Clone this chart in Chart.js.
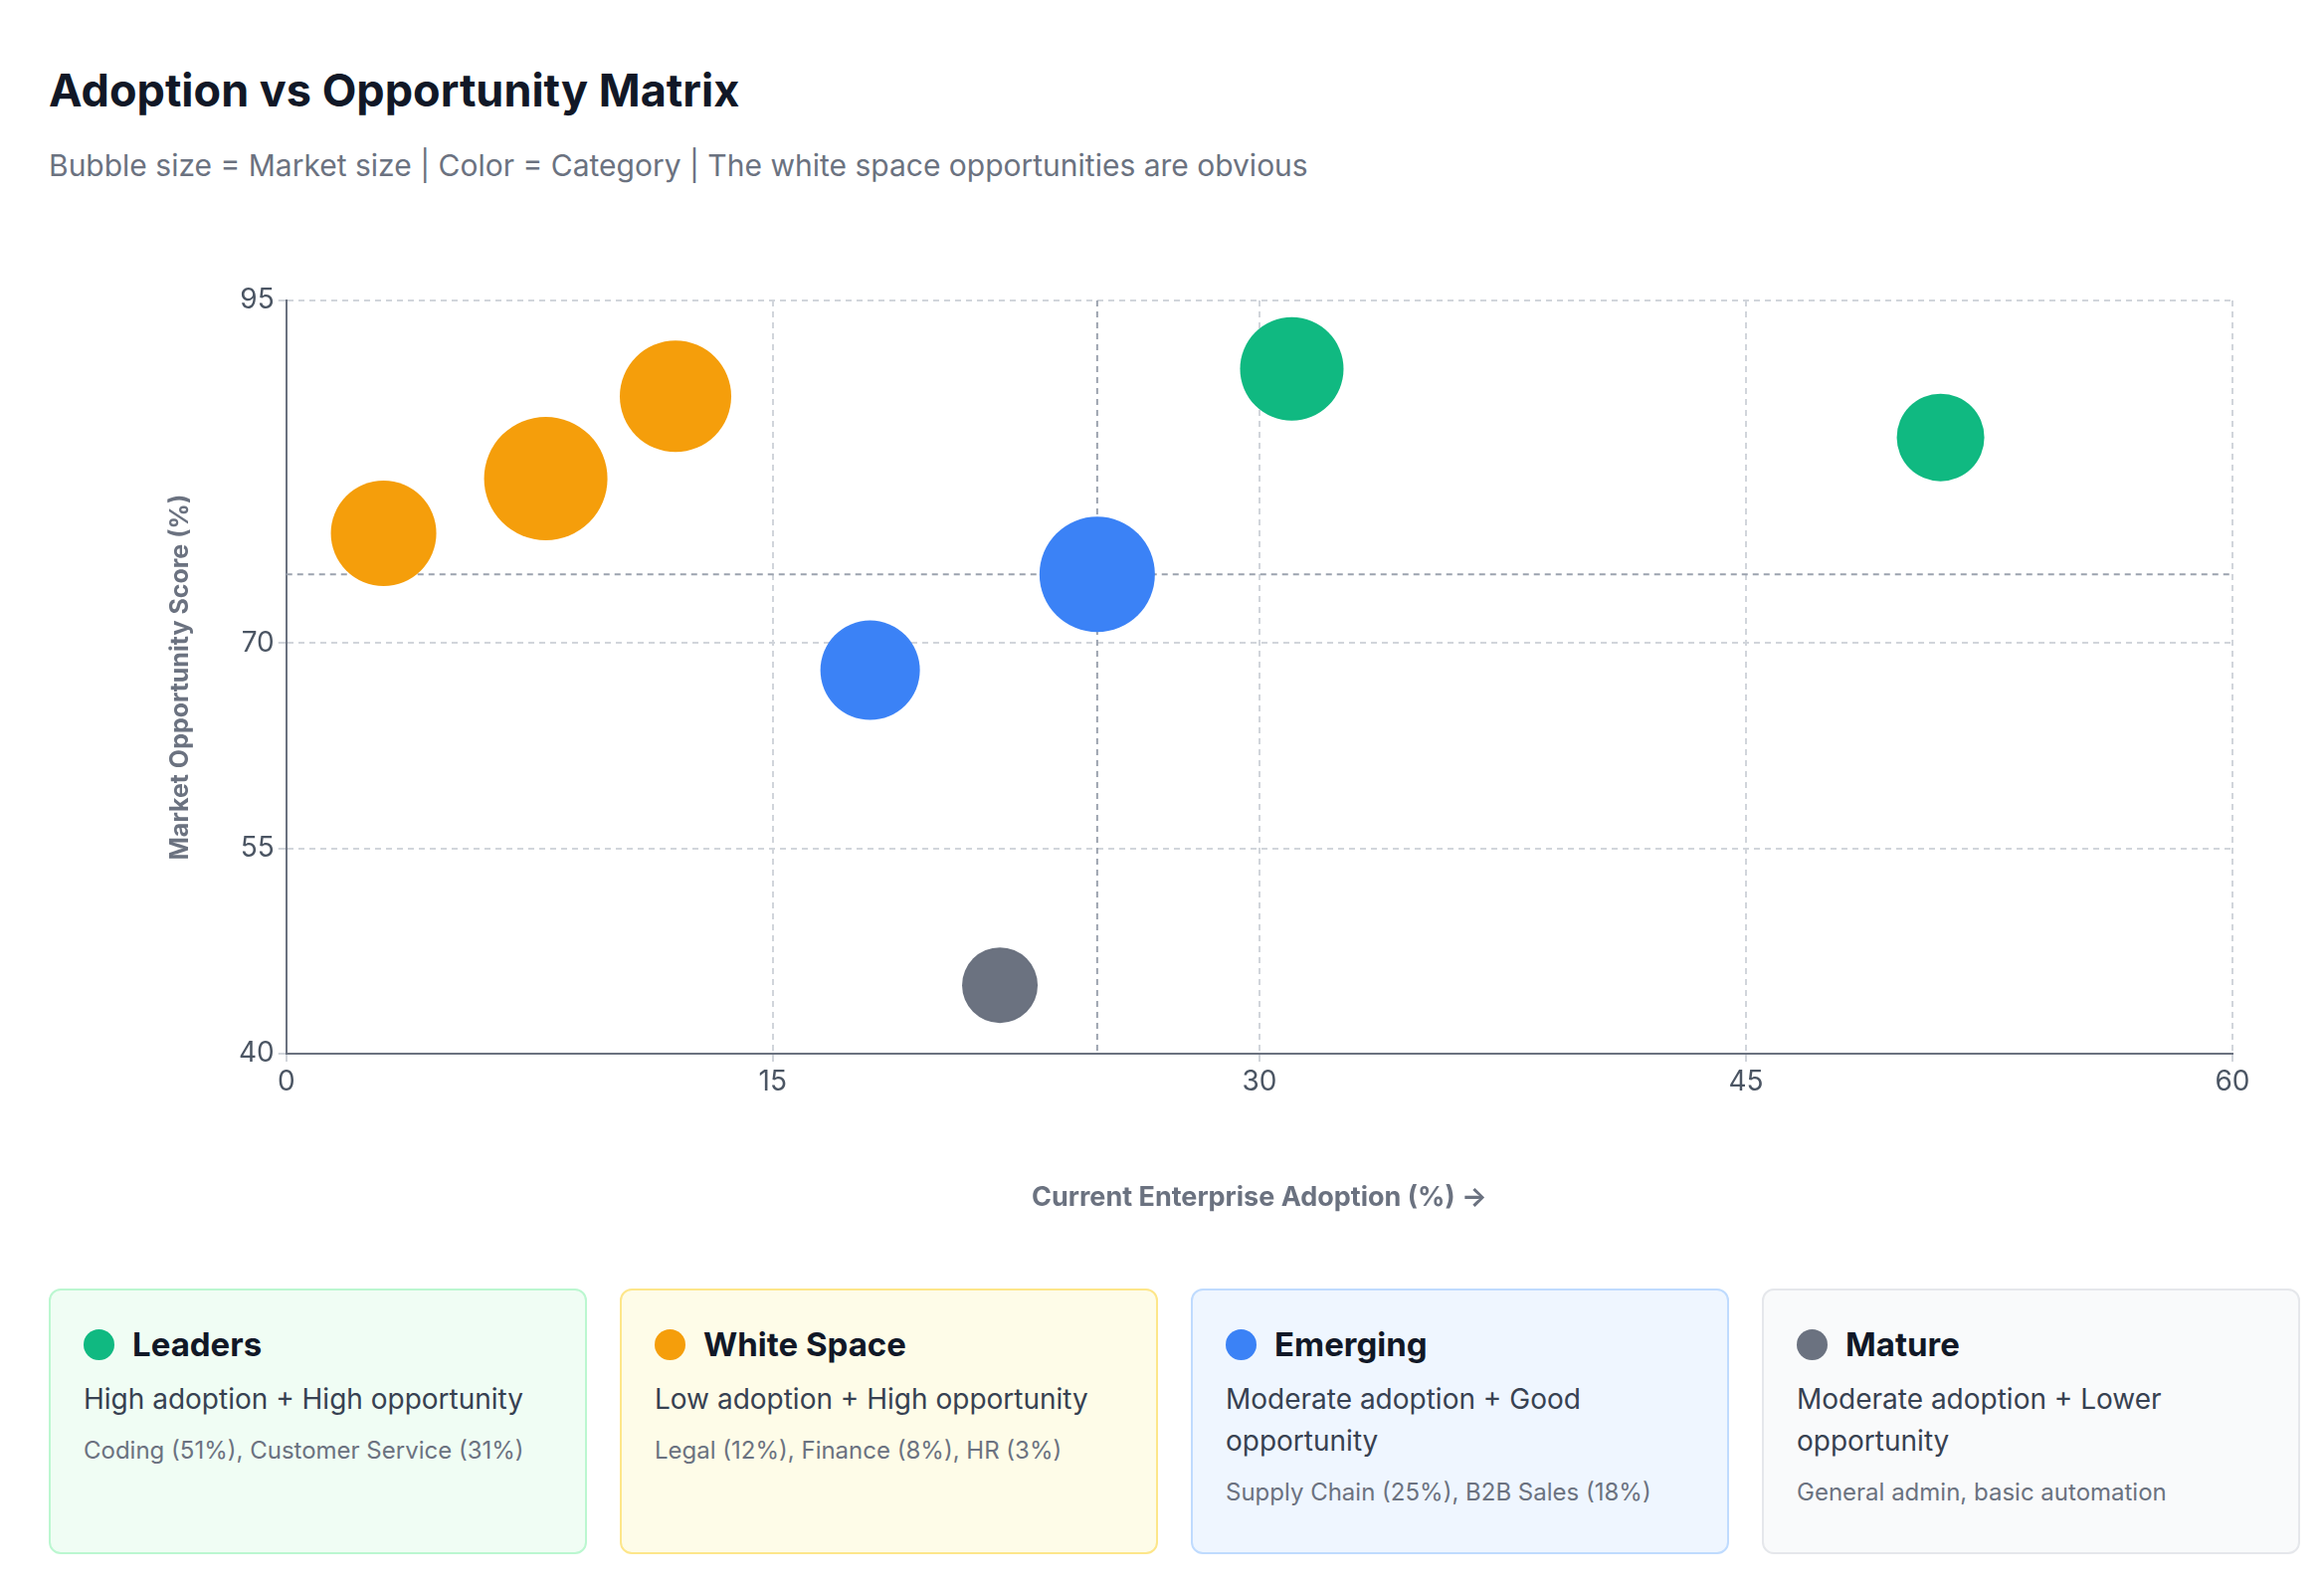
<!DOCTYPE html>
<html>
<head>
<meta charset="utf-8">
<script src="https://cdn.jsdelivr.net/npm/chart.js@4"></script>
<style>
  body { margin:0; background:#fff; font-family:Inter, "Noto Sans", sans-serif; width:2336px; height:1596px; position:relative; overflow:hidden; }
  h1 { position:absolute; left:49px; top:63px; margin:0; font-size:45px; font-weight:700; color:#111827; }
  .sub { position:absolute; left:49px; top:148px; font-size:30px; color:#6b7280; }
  #wrap { position:absolute; left:0; top:240px; width:2336px; height:1000px; }
  .cards { position:absolute; left:49px; top:1295px; display:flex; gap:33px; }
  .card { width:541px; height:267px; box-sizing:border-box; border:2px solid; border-radius:12px; padding:34px 33px; }
  .card h3 { margin:0 0 14px 0; font-size:33px; font-weight:700; color:#111827; display:flex; align-items:center; }
  .dot { width:31px; height:31px; border-radius:50%; margin-right:18px; display:inline-block; }
  .card p { margin:0 0 16px 0; font-size:28px; line-height:42px; color:#374151; }
  .card small { font-size:24px; color:#6b7280; }
</style>
</head>
<body>
<h1>Adoption vs Opportunity Matrix</h1>
<div class="sub">Bubble size = Market size | Color = Category | The white space opportunities are obvious</div>
<div id="wrap"><canvas id="c"></canvas></div>
<div class="cards">
  <div class="card" style="background:#f0fdf4;border-color:#bbf7d0">
    <h3><span class="dot" style="background:#10b981"></span>Leaders</h3>
    <p>High adoption + High opportunity</p>
    <small>Coding (51%), Customer Service (31%)</small>
  </div>
  <div class="card" style="background:#fefce8;border-color:#fde68a">
    <h3><span class="dot" style="background:#f59e0b"></span>White Space</h3>
    <p>Low adoption + High opportunity</p>
    <small>Legal (12%), Finance (8%), HR (3%)</small>
  </div>
  <div class="card" style="background:#eff6ff;border-color:#bfdbfe">
    <h3><span class="dot" style="background:#3b82f6"></span>Emerging</h3>
    <p>Moderate adoption + Good opportunity</p>
    <small>Supply Chain (25%), B2B Sales (18%)</small>
  </div>
  <div class="card" style="background:#f9fafb;border-color:#e5e7eb">
    <h3><span class="dot" style="background:#6b7280"></span>Mature</h3>
    <p>Moderate adoption + Lower opportunity</p>
    <small>General admin, basic automation</small>
  </div>
</div>
<script>
// ── DATA ─────────────────────────────────────────
const categories = ["Leaders", "White Space", "Emerging", "Mature"];
const catColors  = ["#10b981", "#f59e0b", "#3b82f6", "#6b7280"];
const leadersX   = [31, 51];
const leadersY   = [90, 85];
const leadersR   = [52, 44];
const whiteX     = [3, 8, 12];
const whiteY     = [78, 82, 88];
const whiteR     = [53, 62, 56];
const emergingX  = [18, 25];
const emergingY  = [68, 75];
const emergingR  = [50, 58];
const matureX    = [22];
const matureY    = [45];
const matureR    = [38];
const xTicks     = [0, 15, 30, 45, 60];
const yTicks     = [40, 55, 70, 95];
const refX = 25, refY = 75;

const pts = (xs, ys, rs) => xs.map((x, i) => ({ x, y: ys[i], r: rs[i] }));

// ── REFERENCE LINES ──────────────────────────────
const refLines = {
  id: "refLines",
  beforeDatasetsDraw(chart) {
    const { ctx, chartArea: a, scales: { x, y } } = chart;
    ctx.save();
    ctx.strokeStyle = "#9ca3af";
    ctx.lineWidth = 2;
    ctx.setLineDash([6, 5]);
    const px = x.getPixelForValue(refX), py = y.getPixelForValue(refY);
    ctx.beginPath();
    ctx.moveTo(px, a.top); ctx.lineTo(px, a.bottom);
    ctx.moveTo(a.left, py); ctx.lineTo(a.right, py);
    ctx.stroke();
    ctx.restore();
  }
};

new Chart(document.getElementById("c"), {
  type: "bubble",
  data: {
    datasets: [
      { label: categories[0], data: pts(leadersX, leadersY, leadersR),   backgroundColor: catColors[0] },
      { label: categories[1], data: pts(whiteX, whiteY, whiteR),         backgroundColor: catColors[1] },
      { label: categories[2], data: pts(emergingX, emergingY, emergingR), backgroundColor: catColors[2] },
      { label: categories[3], data: pts(matureX, matureY, matureR),      backgroundColor: catColors[3] },
    ].map(d => ({ ...d, borderWidth: 0, hoverRadius: 0 })),
  },
  options: {
    responsive: true,
    maintainAspectRatio: false,
    animation: false,
    layout: { padding: { left: 166, right: 92, top: 15, bottom: 0 } },
    plugins: { legend: { display: false }, tooltip: { enabled: false } },
    scales: {
      x: {
        min: 0, max: 60,
        afterBuildTicks: s => { s.ticks = xTicks.map(v => ({ value: v })); },
        afterFit: s => { s.height = 181; },
        grid: { color: "#d1d5db", lineWidth: 2, tickLength: 8 },
        border: { color: "#6b7280", width: 2, dash: [6, 5] },
        ticks: { color: "#4b5563", font: { size: 28, family: "Inter" }, padding: 4 },
        title: { display: true, text: "Current Enterprise Adoption (%) →", color: "#6b7280",
                 font: { size: 27, weight: "bold", family: "Inter" }, padding: { top: 0, bottom: 20 } },
      },
      y: {
        min: 40, max: 95,
        afterBuildTicks: s => { s.ticks = yTicks.map(v => ({ value: v })); },
        grid: { color: "#d1d5db", lineWidth: 2, tickLength: 8 },
        border: { color: "#6b7280", width: 2, dash: [6, 5] },
        ticks: { color: "#4b5563", font: { size: 28, family: "Inter" }, padding: 4 },
        title: { display: true, text: "Market Opportunity Score (%)", color: "#6b7280",
                 font: { size: 25, weight: "bold", family: "Inter" }, padding: { top: 0, bottom: 40 } },
      },
    },
  },
  plugins: [refLines],
});
</script>
</body>
</html>
